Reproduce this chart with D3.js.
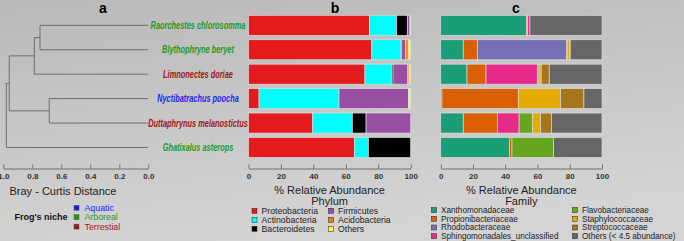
<!DOCTYPE html>
<html lang="en">
<head>
<meta charset="utf-8" />
<title>Frog gut microbiome</title>
<style>
  body { margin: 0; }
  svg { display: block; font-family: "Liberation Sans", Arial, sans-serif; }
</style>
</head>
<body>
<script src="https://d3js.org/d3.v7.min.js"></script>
<script>
const W = 684, H = 241;

// data
const species = ["Raorchestes chlorosomma", "Blythophryne beryet", "Limnonectes doriae",
                 "Nyctibatrachus poocha", "Duttaphrynus melanostictus", "Ghatixalus asterops"];
const niche = ["Arboreal", "Arboreal", "Terrestial", "Aquatic", "Terrestial", "Arboreal"];
const niches = ["Aquatic", "Arboreal", "Terrestial"];

// dendrogram merges: [left, right, Bray-Curtis height]
const merges = [
  ["Raorchestes chlorosomma", "Blythophryne beryet", 0.747],
  ["Nyctibatrachus poocha", "Duttaphrynus melanostictus", 0.683],
  [0, "Limnonectes doriae", 0.786],
  [2, 1, 0.959],
  [3, "Ghatixalus asterops", 0.979]
];
const distTicks = [1.0, 0.8, 0.6, 0.4, 0.2, 0.0];

const phyla = ["Proteobacteria", "Actinobacteria", "Bacteroidetes", "Firmicutes", "Acidobacteria", "Others"];
// one row per species, in phyla order
const phylumShares = [
  [74.5, 16.9, 6.5, 1.6, 0.3, 0.2],
  [76.0, 18.0, 0.3, 2.4, 1.8, 1.5],
  [71.8, 16.5, 0.8, 9.1, 0.8, 1.0],
  [6.5, 49.3, 0.0, 42.8, 0.2, 1.2],
  [39.6, 24.4, 8.5, 27.5, 0.0, 0.0],
  [65.3, 8.6, 26.1, 0.0, 0.0, 0.0]
];

const families = ["Xanthomonadaceae", "Propionibacteriaceae", "Rhodobacteraceae", "Sphingomonadales_unclassified",
                  "Flavobacteriaceae", "Staphylococcaceae", "Streptococcaceae", "Others (< 4.5 abundance)"];
const familyShares = [
  [53.3, 0.5, 0.0, 1.5, 0.0, 0.0, 0.0, 44.7],
  [14.0, 8.7, 55.4, 0.3, 0.0, 1.6, 0.3, 19.7],
  [16.3, 11.8, 0.0, 31.8, 1.0, 1.4, 5.0, 32.7],
  [0.8, 47.3, 0.0, 0.0, 0.0, 26.1, 14.6, 11.2],
  [14.0, 21.1, 0.0, 13.5, 8.2, 5.0, 6.8, 31.4],
  [42.6, 1.6, 0.0, 0.0, 25.8, 0.0, 0.0, 30.0]
];
const pctTicks = [0, 20, 40, 60, 80, 100];

const phylumColor = d3.scaleOrdinal().domain(phyla)
  .range(["#e41a1c", "#00ffff", "#000000", "#984ea3", "#ff7f00", "#ffff33"]);
const familyColor = d3.scaleOrdinal().domain(families).range(d3.schemeDark2);
const nicheColor = d3.scaleOrdinal().domain(niches).range(["#1f1ff0", "#1f9a1f", "#9e1616"]);

const svg = d3.select("body").append("svg").attr("width", W).attr("height", H);

// background
const grad = svg.append("defs").append("linearGradient")
  .attr("id", "bg").attr("x1", 0).attr("y1", 0).attr("x2", 0.3).attr("y2", 1);
grad.append("stop").attr("offset", "0%").attr("stop-color", "#b9b9b9");
grad.append("stop").attr("offset", "100%").attr("stop-color", "#d4d4d4");
svg.append("rect").attr("width", W).attr("height", H).attr("fill", "url(#bg)");

const y = d3.scaleBand().domain(species).range([13.1, 159.7]).paddingInner(0.18).paddingOuter(0.09);
const axisY = 168.5;

// panel titles
svg.selectAll(".ptitle")
  .data([["a", 103], ["b", 335], ["c", 516]])
  .join("text")
  .attr("x", d => d[1]).attr("y", 13)
  .attr("text-anchor", "middle")
  .attr("font-size", 14).attr("font-weight", "bold")
  .text(d => d[0]);

// ----- a: dendrogram -----
const xd = d3.scaleLinear().domain([1, 0]).range([3.3, 148.3]);
const nodes = [];
function pos(ref) {
  if (typeof ref === "number") return nodes[ref];
  return { x: xd(0), y: y(ref) + y.bandwidth() / 2 };
}
const dend = svg.append("g").attr("stroke", "#6e6e6e").attr("stroke-width", 1).attr("fill", "none");
merges.forEach(m => {
  const a = pos(m[0]), b = pos(m[1]);
  const hx = xd(m[2]);
  dend.append("path")
    .attr("d", `M${a.x},${a.y}H${hx}V${b.y}H${b.x}`);
  nodes.push({ x: hx, y: (a.y + b.y) / 2 });
});

// condensed italic leaf labels
svg.selectAll(".leaf")
  .data(species)
  .join("text")
  .attr("transform", d => `translate(198,${y(d) + y.bandwidth() / 2 + 3.5}) scale(0.74,1)`)
  .attr("text-anchor", "middle")
  .attr("font-size", 10).attr("font-style", "italic").attr("font-weight", "bold")
  .attr("fill", (d, i) => nicheColor(niche[i]))
  .text(d => d);

function styleAxis(g) {
  g.select(".domain").attr("stroke", "#6e6e6e");
  g.selectAll(".tick line").attr("stroke", "#6e6e6e");
  g.selectAll(".tick text").attr("fill", "#333").attr("font-size", 8).attr("font-weight", "bold")
    .attr("font-family", "Liberation Sans, Arial, sans-serif");
}

svg.append("g")
  .attr("transform", `translate(0,${axisY})`)
  .call(d3.axisBottom(xd).tickValues(distTicks).tickFormat(d3.format(".1f"))
        .tickSizeInner(-4).tickSizeOuter(0).tickPadding(5))
  .call(styleAxis);

svg.append("text")
  .attr("x", 63).attr("y", 195)
  .attr("text-anchor", "middle").attr("font-size", 11).attr("fill", "#222")
  .text("Bray - Curtis Distance");

svg.append("text")
  .attr("x", 41).attr("y", 220)
  .attr("text-anchor", "middle").attr("font-size", 9).attr("font-weight", "bold").attr("fill", "#111")
  .text("Frog's niche");

const nl = svg.append("g").selectAll("g").data(niches).join("g")
  .attr("transform", (d, i) => `translate(74,${205.3 + i * 9.4})`);
nl.append("rect").attr("width", 5).attr("height", 5)
  .attr("fill", d => nicheColor(d)).attr("stroke", "#555").attr("stroke-width", 0.5);
nl.append("text").attr("x", 10.5).attr("y", 5.6)
  .attr("font-size", 8.8).attr("fill", d => nicheColor(d)).text(d => d);

// ----- stacked bar panels -----
function barPanel(x0, x1, cats, shares, color, groupTitle, legendCols) {
  const x = d3.scaleLinear().domain([0, 100]).range([x0, x1]);
  const g = svg.append("g");
  species.forEach((sp, i) => {
    let acc = 0;
    const segs = cats.map((c, j) => {
      const s = { cat: c, start: acc, end: acc + shares[i][j] };
      acc += shares[i][j];
      return s;
    }).filter(s => s.end > s.start);
    g.append("g").selectAll("rect").data(segs).join("rect")
      .attr("x", d => x(d.start))
      .attr("y", y(sp))
      .attr("width", d => x(d.end) - x(d.start))
      .attr("height", y.bandwidth())
      .attr("fill", d => color(d.cat))
      .attr("stroke", "#dadada").attr("stroke-width", 0.7);
  });

  svg.append("g")
    .attr("transform", `translate(0,${axisY})`)
    .call(d3.axisBottom(x).tickValues(pctTicks).tickSizeInner(-4).tickSizeOuter(0).tickPadding(5))
    .call(styleAxis);

  const cx = (x0 + x1) / 2;
  svg.append("text").attr("x", cx).attr("y", 194)
    .attr("text-anchor", "middle").attr("font-size", 11).attr("fill", "#222")
    .text("% Relative Abundance");
  svg.append("text").attr("x", cx).attr("y", 205)
    .attr("text-anchor", "middle").attr("font-size", 11).attr("fill", "#222")
    .text(groupTitle);

  const rows = Math.ceil(cats.length / 2);
  const lg = svg.append("g").selectAll("g").data(cats).join("g")
    .attr("transform", (d, i) => `translate(${legendCols.xs[Math.floor(i / rows)]},${legendCols.y0 + (i % rows) * legendCols.dy})`);
  lg.append("rect").attr("width", 5).attr("height", 5)
    .attr("fill", d => color(d)).attr("stroke", "#222").attr("stroke-width", 0.5);
  lg.append("text").attr("x", 9.5).attr("y", 5.3)
    .attr("font-size", legendCols.fs).attr("fill", "#222").text(d => d);
}

barPanel(248.5, 410.7, phyla, phylumShares, phylumColor, "Phylum",
         { xs: [252, 328.5], y0: 208.3, dy: 9, fs: 8.7 });
barPanel(440.7, 602, families, familyShares, familyColor, "Family",
         { xs: [431.5, 572.5], y0: 207.6, dy: 8.7, fs: 8.2 });
</script>
</body>
</html>
